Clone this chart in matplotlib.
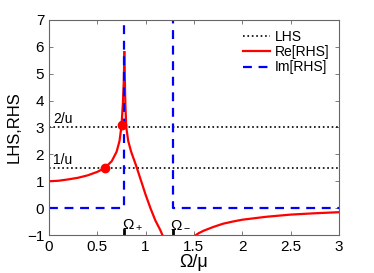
import numpy as np
import matplotlib.pyplot as plt

plt.rcParams['font.family'] = ['Liberation Sans', 'DejaVu Sans']
plt.rcParams['mathtext.fontset'] = 'custom'
plt.rcParams['mathtext.rm'] = 'Liberation Sans'
plt.rcParams['mathtext.it'] = 'Liberation Sans'

# Re[RHS], three branches
re_x1 = [0.0, 0.1, 0.2, 0.3, 0.4, 0.5, 0.58, 0.65, 0.7, 0.73, 0.75, 0.765, 0.775, 0.78]
re_y1 = [1.0, 1.02, 1.07, 1.13, 1.22, 1.35, 1.5, 1.75, 2.1, 2.5, 3.05, 3.9, 4.8, 5.8]
re_x2 = [0.78, 0.785, 0.79, 0.8, 0.82, 0.85, 0.9, 0.95, 1.0, 1.05, 1.1, 1.15, 1.18]
re_y2 = [5.8, 4.8, 3.9, 3.0, 2.5, 2.1, 1.6, 1.05, 0.5, 0.0, -0.45, -0.8, -1.05]
re_x3 = [1.5, 1.55, 1.6, 1.7, 1.8, 1.9, 2.0, 2.25, 2.5, 2.75, 3.0]
re_y3 = [-1.05, -0.93, -0.84, -0.7, -0.58, -0.5, -0.43, -0.32, -0.24, -0.19, -0.15]

# Im[RHS]: zero outside (Omega+, Omega-), off the top inside
im_x = [0.0, 0.78, 0.78, 1.28, 1.28, 3.0]
im_y = [0.0, 0.0, 20.0, 20.0, 0.0, 0.0]

lhs_levels = [3.0, 1.5]
lhs_labels = ['2/u', '1/u']
cross_x = [0.58, 0.755]
cross_y = [1.5, 3.1]
omega_x = [0.78, 1.28]
omega_labels = [r'$\Omega_+$', r'$\Omega_-$']

fig = plt.figure(figsize=(3.74, 2.73), dpi=100)
ax = fig.add_axes([0.131, 0.139, 0.775, 0.788])

for i, lv in enumerate(lhs_levels):
    ax.plot([0, 3], [lv, lv], ':', color='black', lw=1.2,
            label='LHS' if i == 0 else None)
    ax.text(0.04, lv + 0.15, lhs_labels[i], fontsize=10)

ax.plot(re_x1, re_y1, '-', color='red', lw=1.6, label='Re[RHS]')
ax.plot(re_x2, re_y2, '-', color='red', lw=1.6)
ax.plot(re_x3, re_y3, '-', color='red', lw=1.6)
ax.plot(im_x, im_y, '--', color='blue', lw=1.6, dashes=(4, 3), label='Im[RHS]')
ax.plot(cross_x, cross_y, 'o', color='red', ms=6)

for xo, lab in zip(omega_x, omega_labels):
    ax.plot([xo, xo], [-1, -0.82], color='black', lw=2)
    ax.text(xo - 0.025, -0.75, lab, fontsize=11)

ax.set_xlim(0, 3)
ax.set_ylim(-1, 7)
ax.set_xticks(np.arange(0, 3.01, 0.5))
ax.set_xticklabels(['0', '0.5', '1', '1.5', '2', '2.5', '3'])
ax.set_yticks(range(-1, 8))
ax.set_yticklabels([str(v) if v >= 0 else '\u22121' for v in range(-1, 8)])
ax.tick_params(direction='in', top=True, right=True, labelsize=11, length=3,
               width=0.6, color='0.4')
for s in ax.spines.values():
    s.set_linewidth(0.8)
    s.set_color('0.4')

ax.set_xlabel('\u03a9/\u03bc', fontsize=13, labelpad=0)
ax.set_ylabel('LHS,RHS', fontsize=12, labelpad=4)

ax.legend(loc='upper right', frameon=False, fontsize=10, handlelength=2.0,
          handletextpad=0.3, labelspacing=0.1, borderaxespad=0.3)

fig.savefig('out.png', dpi=100)
